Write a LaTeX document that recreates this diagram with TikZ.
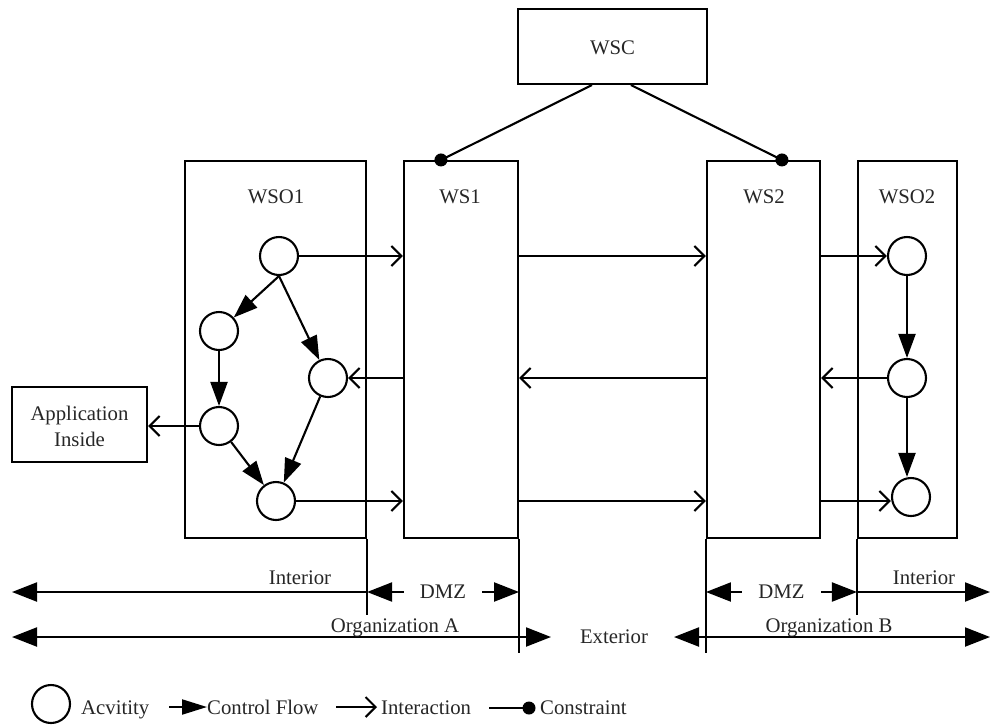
\documentclass[tikz,border=0pt]{standalone}
\usepackage{fontspec}
\setmainfont{Liberation Serif}
\usetikzlibrary{arrows.meta}
\begin{document}
\begin{tikzpicture}[x=1pt,y=-1pt,
  every node/.style={font=\fontsize{20.75}{26}\selectfont, text=black!85, inner sep=0pt},
  lw/.style={line width=2.1pt},
  box/.style={draw, lw, rectangle, inner sep=0pt},
  act/.style={draw, lw, circle, minimum size=38pt, inner sep=0pt},
  ctrl/.style={lw, -{Triangle[length=24pt,width=17pt]}},
  inter/.style={lw, -{Straight Barb[length=10pt,width=20pt]}},
  bigtip/.tip={Triangle[length=25pt,width=19pt]},
  dmz/.style={fill=white, inner xsep=16pt, inner ysep=2pt},
  lbl/.style={anchor=base}
]
\useasboundingbox (0,0) rectangle (991,724);

% boxes
\node[box, minimum width=189pt, minimum height=75pt] (wsc) at (612.5,46.5) {};
\node[box, minimum width=181pt, minimum height=377pt] (wso1) at (275.5,349.5) {};
\node[box, minimum width=114pt, minimum height=377pt] (ws1) at (461,349.5) {};
\node[box, minimum width=113pt, minimum height=377pt] (ws2) at (763.5,349.5) {};
\node[box, minimum width=99pt, minimum height=377pt] (wso2) at (907.5,349.5) {};
\node[box, minimum width=135pt, minimum height=75pt] (app) at (79.5,424.5) {};

% labels
\node[lbl] (wscl) at (612.5,54) {WSC};
\node[lbl] (wso1l) at (276,203) {WSO1};
\node[lbl] (ws1l) at (460,203) {WS1};
\node[lbl] (ws2l) at (764,203) {WS2};
\node[lbl] (wso2l) at (907,203) {WSO2};
\node[lbl] (appl1) at (79.5,420) {Application};
\node[lbl] (appl2) at (79.5,446) {Inside};

% activities
\node[act] (c1) at (279,256) {};
\node[act] (c2) at (219,331) {};
\node[act] (c3) at (328,378) {};
\node[act] (c4) at (219,426) {};
\node[act] (c5) at (276,501) {};
\node[act] (d1) at (907,256) {};
\node[act] (d2) at (907,378) {};
\node[act] (d3) at (911,497) {};

% control flow
\draw[ctrl] (c1.south) -- (c2);
\draw[ctrl] (c1.south) -- (c3);
\draw[ctrl] (c2) -- (c4);
\draw[ctrl] (c4) -- (c5);
\draw[ctrl] (c3) -- (c5);
\draw[ctrl] (d1) -- (d2);
\draw[ctrl] (d2) -- (d2 |- d3.north);

% interactions
\draw[inter] (c1.east) -- (c1.east -| ws1.west);
\draw[inter] (ws1.west |- c3) -- (c3.east);
\draw[inter] (c5.east) -- (c5.east -| ws1.west);
\draw[inter] (c4.west) -- (c4.west -| app.east);
\draw[inter] (ws1.east |- c1) -- (ws2.west |- c1);
\draw[inter] (ws2.west |- c3) -- (ws1.east |- c3);
\draw[inter] (ws1.east |- c5) -- (ws2.west |- c5);
\draw[inter] (ws2.east |- d1) -- (d1.west);
\draw[inter] (d2.west) -- (d2.west -| ws2.east);
\draw[inter] (ws2.east |- c5) -- (c5 -| d3.west);

% constraints
\coordinate (k1) at ([xshift=38pt]ws1.north west);
\coordinate (k2) at ([xshift=76pt]ws2.north west);
\draw[lw] ([xshift=75pt]wsc.south west) -- (k1);
\draw[lw] ([xshift=114pt]wsc.south west) -- (k2);
\fill (k1) circle (6.5pt);
\fill (k2) circle (6.5pt);

% vertical extensions
\draw[lw] (wso1.south east) -- ++(0,76);
\draw[lw] (ws1.south east) -- ++(0,114);
\draw[lw] (ws2.south west) -- ++(0,114);
\draw[lw] (wso2.south west) -- ++(0,76);

% zone rows
\coordinate (r1) at (0,592);
\coordinate (r2) at (0,637);
\coordinate (l1) at (12,592);
\coordinate (e1) at (990,592);
\coordinate (l2) at (12,637);
\coordinate (oa) at (551,637);
\coordinate (ob) at (674,637);
\coordinate (e2) at (990,637);

\draw[lw, bigtip-] (l1) -- (wso1.east |- r1);
\draw[lw, bigtip-bigtip] (wso1.east |- r1) -- node[dmz] (dmz1) {DMZ} (ws1.east |- r1);
\draw[lw, bigtip-bigtip] (ws2.west |- r1) -- node[dmz] (dmz2) {DMZ} (wso2.west |- r1);
\draw[lw, -bigtip] (wso2.west |- r1) -- (e1);
\draw[lw, bigtip-bigtip] (l2) -- (oa);
\draw[lw, bigtip-bigtip] (ob) -- (e2);

\node[lbl] (int1) at (300,584) {Interior};
\node[lbl] (int2) at (924,584) {Interior};
\node[lbl] (orga) at (395,632) {Organization A};
\node[lbl] (orgb) at (829,632) {Organization B};
\node[lbl] (ext) at (614,643) {Exterior};

% legend
\node[act] (lgact) at (51,704) {};
\node[anchor=base west] (lgacttxt) at (81,714) {Acvitity};
\coordinate (lc1) at (169,707);
\coordinate (lc2) at (207,707);
\draw[lw, -{Triangle[length=25pt,width=15pt]}] (lc1) -- (lc2);
\node[anchor=base west] (lgctrl) at (207,714) {Control Flow};
\coordinate (li1) at (336,707);
\coordinate (li2) at (377,707);
\draw[inter] (li1) -- (li2);
\node[anchor=base west] (lginter) at (381,714) {Interaction};
\coordinate (lk1) at (489,708);
\coordinate (lk2) at (529,708);
\draw[lw] (lk1) -- (lk2);
\fill (lk2) circle (6.5pt);
\node[anchor=base west] (lgcon) at (540,714) {Constraint};
\end{tikzpicture}
\end{document}
